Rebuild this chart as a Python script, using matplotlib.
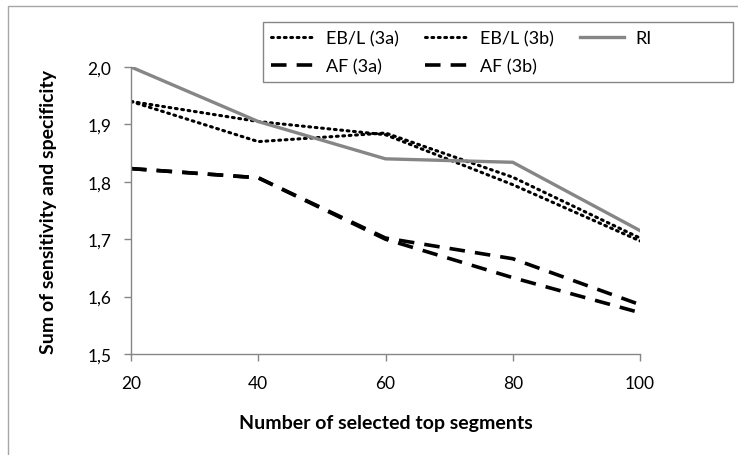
import matplotlib
matplotlib.use("Agg")
import matplotlib.pyplot as plt
from matplotlib.patches import Rectangle
from matplotlib.ticker import FuncFormatter

plt.rcParams['font.family'] = ['Lato', 'DejaVu Sans']

segments = [20, 40, 60, 80, 100]
ebl_3a = [1.940, 1.870, 1.885, 1.808, 1.702]
ebl_3b = [1.940, 1.905, 1.882, 1.795, 1.697]
ri = [2.000, 1.905, 1.840, 1.834, 1.715]
af_3a = [1.823, 1.807, 1.702, 1.666, 1.586]
af_3b = [1.823, 1.807, 1.700, 1.633, 1.572]

W, H = 738, 456
fig = plt.figure(figsize=(W / 100, H / 100), dpi=100)
ax = fig.add_axes([131 / W, 1 - 355 / H, (640 - 131) / W, (355 - 68) / H])

# chart frame (left/top edge visible, rest cut off)
fig.patches.append(Rectangle((8 / W, -0.1), 1.2, 1 - 7 / H + 0.1,
                             transform=fig.transFigure, fill=False,
                             edgecolor='#a6a6a6', linewidth=1.0))

dot = (0, (0.6, 1.5))
dash = (0, (4.3, 2.8))
l1, = ax.plot(segments, ebl_3a, color='black', linestyle=dot,
              linewidth=2.2, dash_capstyle='round', label='EB/L (3a)')
l2, = ax.plot(segments, ebl_3b, color='black', linestyle=dot,
              linewidth=2.2, dash_capstyle='round', label='EB/L (3b)')
l3, = ax.plot(segments, ri, color='#868686', linewidth=2.4,
              solid_joinstyle='miter', label='RI')
l4, = ax.plot(segments, af_3a, color='black', linestyle=dash,
              linewidth=2.6, label='AF (3a)')
l5, = ax.plot(segments, af_3b, color='black', linestyle=dash,
              linewidth=2.6, label='AF (3b)')

ax.set_xlim(20, 100)
ax.set_ylim(1.5, 2.0)
ax.set_xticks(segments)
ax.set_yticks([1.5, 1.6, 1.7, 1.8, 1.9, 2.0])
ax.yaxis.set_major_formatter(FuncFormatter(lambda v, p: f"{v:.1f}".replace('.', ',')))

for s in ['top', 'right']:
    ax.spines[s].set_visible(False)
for s in ['left', 'bottom']:
    ax.spines[s].set_color('#868686')
    ax.spines[s].set_linewidth(1.0)
ax.tick_params(axis='both', colors='#868686', length=5, width=1.0,
               labelcolor='black', labelsize=12.5)
ax.tick_params(axis='x', pad=10)
ax.tick_params(axis='y', pad=9)

ax.set_xlabel('Number of selected top segments', fontsize=14, fontweight='bold',
              labelpad=17)
ax.set_ylabel('Sum of sensitivity and specificity', fontsize=14, fontweight='bold',
              labelpad=22)

leg = fig.legend([l1, l4, l2, l5, l3],
                 ['EB/L (3a)', 'AF (3a)', 'EB/L (3b)', 'AF (3b)', 'RI'],
                 ncol=3, loc='upper left',
                 bbox_to_anchor=(263 / W, 1 - 23 / H),
                 borderaxespad=0, frameon=False, fontsize=13,
                 handlelength=2.4, handletextpad=0.65, columnspacing=1.45,
                 borderpad=0.45, labelspacing=0.65)

# legend box is wider than its entries
fig.patches.append(Rectangle((263 / W, 1 - 83 / H), (733 - 263) / W, 60 / H,
                             transform=fig.transFigure, fill=False,
                             edgecolor='#868686', linewidth=1.0, zorder=5))

fig.savefig('out.png', dpi=100)
